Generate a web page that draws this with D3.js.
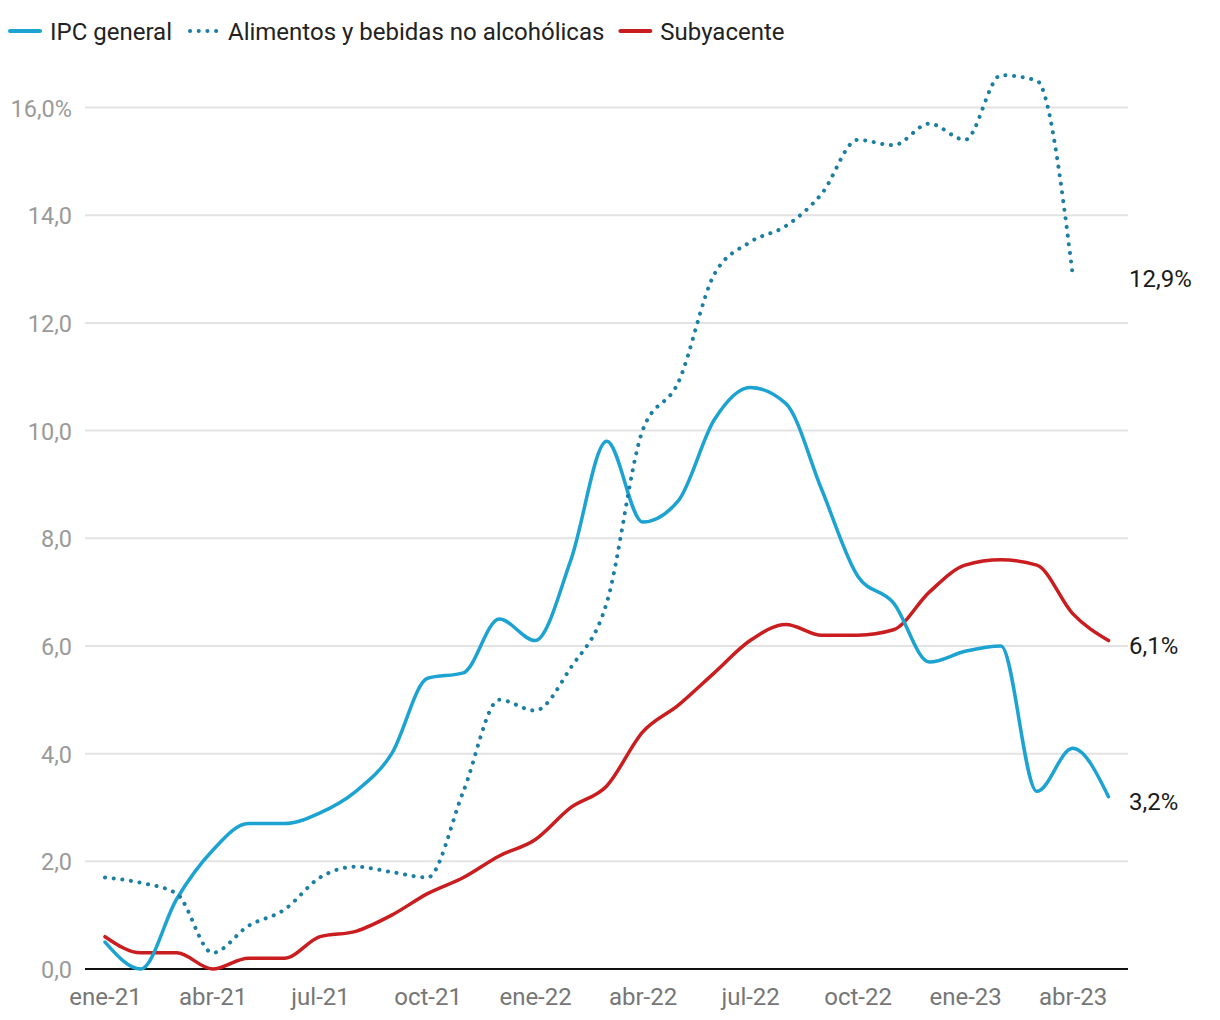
<!DOCTYPE html>
<html>
<head>
<meta charset="utf-8">
<script src="https://cdn.jsdelivr.net/npm/d3@7"></script>
<style>
  html, body { margin: 0; padding: 0; background: #fff; }
  svg { display: block; font-family: Roboto, "Noto Sans", sans-serif; }
</style>
</head>
<body>
<svg id="chart" width="1220" height="1020"></svg>
<script>
const months = ["ene-21","feb-21","mar-21","abr-21","may-21","jun-21","jul-21","ago-21","sep-21","oct-21","nov-21","dic-21",
  "ene-22","feb-22","mar-22","abr-22","may-22","jun-22","jul-22","ago-22","sep-22","oct-22","nov-22","dic-22",
  "ene-23","feb-23","mar-23","abr-23","may-23"];
const ipcGeneral = [0.5, 0.0, 1.3, 2.2, 2.7, 2.7, 2.9, 3.3, 4.0, 5.4, 5.5, 6.5,
  6.1, 7.6, 9.8, 8.3, 8.7, 10.2, 10.8, 10.5, 8.9, 7.3, 6.8, 5.7,
  5.9, 6.0, 3.3, 4.1, 3.2];
const alimentos = [1.7, 1.6, 1.4, 0.3, 0.8, 1.1, 1.7, 1.9, 1.8, 1.7, 3.3, 5.0,
  4.8, 5.6, 6.8, 10.0, 10.9, 12.9, 13.5, 13.8, 14.4, 15.4, 15.3, 15.7,
  15.4, 16.6, 16.5, 12.9];
const subyacente = [0.6, 0.3, 0.3, 0.0, 0.2, 0.2, 0.6, 0.7, 1.0, 1.4, 1.7, 2.1,
  2.4, 3.0, 3.4, 4.4, 4.9, 5.5, 6.1, 6.4, 6.2, 6.2, 6.3, 7.0,
  7.5, 7.6, 7.5, 6.6, 6.1];
const xTickLabels = ["ene-21","abr-21","jul-21","oct-21","ene-22","abr-22","jul-22","oct-22","ene-23","abr-23"];
const yTicks = [0, 2, 4, 6, 8, 10, 12, 14, 16];
const seriesNames = ["IPC general", "Alimentos y bebidas no alcohólicas", "Subyacente"];
const endLabels = ["3,2%", "12,9%", "6,1%"];

const colors = { ipc: "#1ca3d1", food: "#1b7ea3", core: "#c91d1f" };

const svg = d3.select("#chart");
const gridLeft = 85, gridRight = 1128;
const x = d3.scaleLinear().domain([0, months.length - 1]).range([105, 1108.5]);
const y = d3.scaleLinear().domain([0, 16]).range([969, 107.5]);

// gridlines
svg.append("g").selectAll("line").data(yTicks.filter(d => d > 0)).join("line")
  .attr("x1", gridLeft).attr("x2", gridRight)
  .attr("y1", d => y(d)).attr("y2", d => y(d))
  .attr("stroke", "#e3e3e3").attr("stroke-width", 2);

// y labels
const fmt = d => d.toFixed(1).replace(".", ",") + (d === 16 ? "%" : "");
svg.append("g").selectAll("text").data(yTicks).join("text")
  .attr("x", 72).attr("y", d => y(d) + 1)
  .attr("text-anchor", "end").attr("dominant-baseline", "central")
  .attr("fill", "#9a9a9a").attr("font-size", 23.5)
  .text(fmt);

// x axis baseline
svg.append("line").attr("x1", gridLeft).attr("x2", gridRight)
  .attr("y1", y(0)).attr("y2", y(0))
  .attr("stroke", "#111").attr("stroke-width", 2);

// x labels
const xAxis = d3.axisBottom(x)
  .tickValues(xTickLabels.map(l => months.indexOf(l)))
  .tickFormat(i => months[i]).tickSize(0).tickPadding(0);
const gx = svg.append("g").attr("transform", `translate(0,${y(0) + 28})`).call(xAxis);
gx.select(".domain").remove();
gx.selectAll("text").attr("font-size", 24).attr("fill", "#767676")
  .attr("font-family", "Roboto, 'Noto Sans', sans-serif").attr("dy", "0.35em");

const line = d3.line().x((d, i) => x(i)).y(d => y(d)).curve(d3.curveMonotoneX);

svg.append("path").datum(subyacente).attr("d", line)
  .attr("fill", "none").attr("stroke", colors.core).attr("stroke-width", 3.5)
  .attr("stroke-linejoin", "round").attr("stroke-linecap", "round");
svg.append("path").datum(ipcGeneral).attr("d", line)
  .attr("fill", "none").attr("stroke", colors.ipc).attr("stroke-width", 3.5)
  .attr("stroke-linejoin", "round").attr("stroke-linecap", "round");
svg.append("path").datum(alimentos).attr("d", line)
  .attr("fill", "none").attr("stroke", colors.food).attr("stroke-width", 4)
  .attr("stroke-dasharray", "0.1 8.6").attr("stroke-linecap", "round");

// end labels
const ends = [
  { v: ipcGeneral[ipcGeneral.length - 1], t: endLabels[0] },
  { v: alimentos[alimentos.length - 1], t: endLabels[1] },
  { v: subyacente[subyacente.length - 1], t: endLabels[2] }
];
svg.append("g").selectAll("text").data(ends).join("text")
  .attr("x", 1129).attr("y", d => y(d.v) + 5)
  .attr("dominant-baseline", "central")
  .attr("fill", "#1a1a1a").attr("font-size", 24)
  .text(d => d.t);

// legend
const legend = [
  { name: seriesNames[0], color: colors.ipc, dotted: false },
  { name: seriesNames[1], color: colors.food, dotted: true },
  { name: seriesNames[2], color: colors.core, dotted: false }
];
let lx = 10;
legend.forEach(d => {
  const g = svg.append("g").attr("transform", `translate(${lx},31)`);
  g.append("line").attr("x1", d.dotted ? 2 : 0).attr("x2", 30).attr("y1", 0).attr("y2", 0)
    .attr("stroke", d.color).attr("stroke-width", 4)
    .attr("stroke-dasharray", d.dotted ? "0.1 8.6" : null)
    .attr("stroke-linecap", "round");
  const t = g.append("text").attr("x", 40).attr("y", 1).attr("dominant-baseline", "central")
    .attr("font-size", 24).attr("fill", "#222").text(d.name);
  lx += 40 + t.node().getComputedTextLength() + 16;
});
</script>
</body>
</html>
